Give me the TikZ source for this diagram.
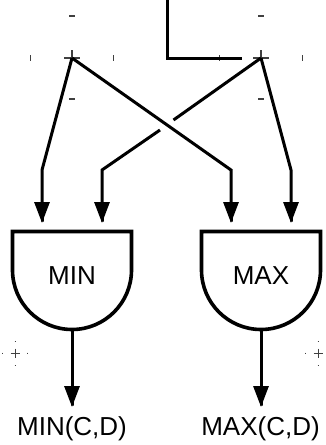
\documentclass[tikz,border=0pt]{standalone}
\usepackage{fontspec}
\setmainfont{Liberation Sans}
\usetikzlibrary{arrows.meta}
\tikzset{
  wire/.style={line width=3pt,line join=miter},
  arrowwire/.style={wire,-{Triangle[width=15pt,length=21pt,sep=-22pt]Rectangle[width=3pt,length=22pt,sep=0pt]}},
  gate/.style={line width=3.6pt,line join=miter},
  gatetext/.style={font=\fontsize{26pt}{27pt}\selectfont,inner sep=0pt,anchor=base},
  tickmark/.style={line width=1.1pt,black!75},
  finemark/.style={line width=0.9pt,black!75}
}
\begin{document}
\begin{tikzpicture}[x=1pt,y=-1pt]
\useasboundingbox (0,0) rectangle (325,445);
% reference points
\coordinate (in) at (167,0);
\coordinate (bend) at (167,58);
\coordinate (stub) at (242,58);
\coordinate (A) at (72,58);
\coordinate (B) at (261,58);
\coordinate (a1) at (42,170);
\coordinate (a2) at (42,223);
\coordinate (b1) at (102,170);
\coordinate (b2) at (102,223);
\coordinate (c1) at (231,170);
\coordinate (c2) at (231,223);
\coordinate (d1) at (291,170);
\coordinate (d2) at (291,223);
\coordinate (gapa) at (173.5,120);
\coordinate (gapb) at (160,130);
\coordinate (minout) at (72,330);
\coordinate (maxout) at (261,330);
\coordinate (mintip) at (72,407);
\coordinate (maxtip) at (261,407);
% small construction marks
\foreach \x/\y in {72/58,261/58}{
  \draw[tickmark] (\x-8,\y) -- (\x+8,\y) (\x,\y-8) -- (\x,\y);
  \draw[tickmark] (\x-41.5,\y-3) -- (\x-41.5,\y+3) (\x+41.5,\y-3) -- (\x+41.5,\y+3);
  \draw[tickmark] (\x-2.8,\y-42) -- (\x+2.8,\y-42) (\x-2.8,\y+41) -- (\x+2.8,\y+41);
}
\foreach \x in {15,318}{
  \draw[finemark] (\x-4.5,353) -- (\x+4.5,353) (\x,348.5) -- (\x,357.5);
  \draw[finemark] (\x-12.5,352.5) -- (\x-12.5,353.5) (\x-0.5,341) -- (\x+0.5,341) (\x-0.5,365) -- (\x+0.5,365);
}
\draw[finemark] (27.5,352.5) -- (27.5,353.5);
% wires
\draw[wire] (in) -- (bend) -- (stub);
\draw[arrowwire] (A) -- (a1) -- (a2);
\draw[arrowwire] (A) -- (c1) -- (c2);
\draw[wire] (B) -- (gapa);
\draw[arrowwire] (gapb) -- (b1) -- (b2);
\draw[arrowwire] (B) -- (d1) -- (d2);
% gates
\draw[gate] (12.5,231.5) -- (131.5,231.5) -- (131.5,270) arc[start angle=0,end angle=180,x radius=59.5,y radius=59.5] -- cycle;
\draw[gate] (201.5,231.5) -- (320.5,231.5) -- (320.5,270) arc[start angle=0,end angle=180,x radius=59.5,y radius=59.5] -- cycle;
\node[gatetext] (minlabel) at (72,284) {MIN};
\node[gatetext] (maxlabel) at (261,284) {MAX};
% outputs
\draw[arrowwire] (minout) -- (mintip);
\draw[arrowwire] (maxout) -- (maxtip);
\node[gatetext] (minres) at (72,435) {MIN(C,D)};
\node[gatetext] (maxres) at (260.5,435) {MAX(C,D)};
\end{tikzpicture}
\end{document}
